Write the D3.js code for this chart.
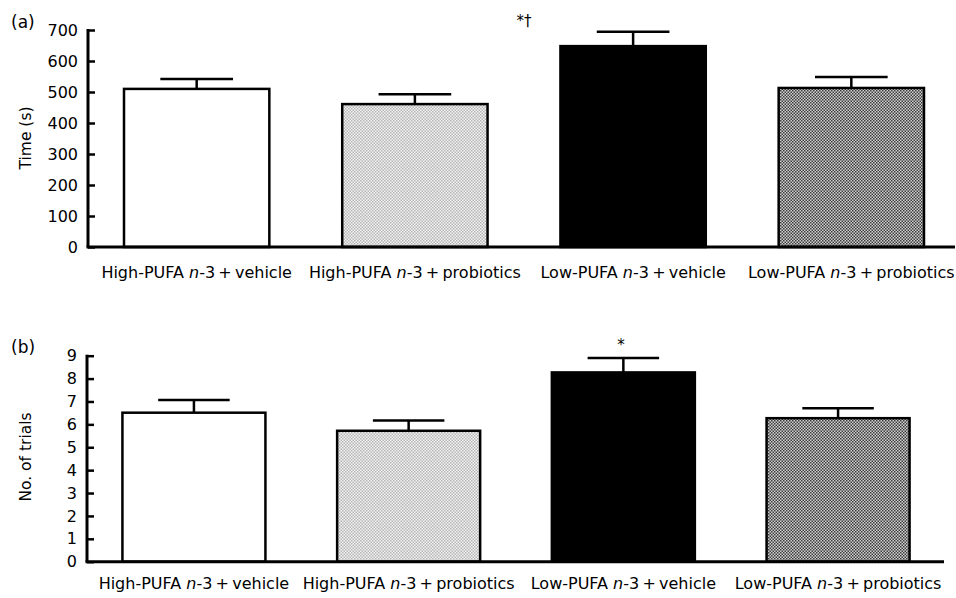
<!DOCTYPE html>
<html>
<head>
<meta charset="utf-8">
<script src="https://cdn.jsdelivr.net/npm/d3@7"></script>
<style>
  body { margin: 0; background: #fff; }
  svg { font-family: "DejaVu Sans", sans-serif; }
</style>
</head>
<body>
<div id="chart"></div>
<script>
// groups on the x axis
let groups = ['hv', 'hp', 'lv', 'lp'];
let groupPrefix = ['High-PUFA ', 'High-PUFA ', 'Low-PUFA ', 'Low-PUFA '];
let groupSuffix = ['-3\u2009+\u2009vehicle', '-3\u2009+\u2009probiotics', '-3\u2009+\u2009vehicle', '-3\u2009+\u2009probiotics'];

// panel (a): time (s)
let timeMean = [510, 461, 648, 513];
let timeErr = [32, 32, 46, 35];
let timeTicks = [0, 100, 200, 300, 400, 500, 600, 700];

// panel (b): number of trials
let trialMean = [6.51, 5.72, 8.27, 6.27];
let trialErr = [0.55, 0.45, 0.63, 0.43];
let trialTicks = [0, 1, 2, 3, 4, 5, 6, 7, 8, 9];

let fills = ['#fff', 'url(#patLight)', '#000', 'url(#patDark)'];

let svg = d3.select('#chart').append('svg')
    .attr('width', 956)
    .attr('height', 598);

let defs = svg.append('defs');
addPattern(defs, 'patLight', '#f4f4f4', '#b4b4b4');
addPattern(defs, 'patDark', '#d0d0d0', '#3c3c3c');

drawPanel({
    label: '(a)', labelY: 28,
    yTitle: 'Time (s)', yTitleY: 138,
    means: timeMean, errs: timeErr, ticks: timeTicks,
    yDomain: [0, 700], yRange: [247, 30],
    xRange: [88, 960], axisEnd: 955,
    catY: 278,
    notes: [{ text: '*\u2020', x: 524, y: 26 }]
});

drawPanel({
    label: '(b)', labelY: 353,
    yTitle: 'No. of trials', yTitleY: 457,
    means: trialMean, errs: trialErr, ticks: trialTicks,
    yDomain: [0, 9], yRange: [561.7, 355.7],
    xRange: [87, 945], axisEnd: 944,
    catY: 589,
    notes: [{ text: '*', x: 621, y: 350 }]
});

function addPattern(defs, id, bg, fg) {
    let p = defs.append('pattern')
        .attr('id', id)
        .attr('patternUnits', 'userSpaceOnUse')
        .attr('width', 3)
        .attr('height', 3);
    p.append('rect').attr('width', 3).attr('height', 3).attr('fill', bg);
    p.append('rect').attr('width', 1.5).attr('height', 1.5).attr('fill', fg);
    p.append('rect').attr('x', 1.5).attr('y', 1.5).attr('width', 1.5).attr('height', 1.5).attr('fill', fg);
}

function drawPanel(cfg) {
    let g = svg.append('g');

    let xScaler = d3.scaleBand()
        .domain(groups)
        .range(cfg.xRange)
        .paddingInner(0.334)
        .paddingOuter(0.165);

    let yScaler = d3.scaleLinear()
        .domain(cfg.yDomain)
        .range(cfg.yRange);

    let data = groups.map((k, i) => ({ key: k, i: i, mean: cfg.means[i], err: cfg.errs[i] }));

    // bars
    g.selectAll('.bar')
        .data(data)
        .enter()
        .append('rect')
        .attr('x', d => xScaler(d.key))
        .attr('y', d => yScaler(d.mean))
        .attr('width', xScaler.bandwidth())
        .attr('height', d => yScaler(0) - yScaler(d.mean))
        .attr('fill', d => fills[d.i])
        .attr('stroke', '#000')
        .attr('stroke-width', 2.5);

    // error bars
    let bw = xScaler.bandwidth();
    let eb = g.selectAll('.err').data(data).enter().append('g');
    eb.append('line')
        .attr('x1', d => xScaler(d.key) + bw / 2)
        .attr('x2', d => xScaler(d.key) + bw / 2)
        .attr('y1', d => yScaler(d.mean))
        .attr('y2', d => yScaler(d.mean + d.err))
        .attr('stroke', '#000').attr('stroke-width', 2.5);
    eb.append('line')
        .attr('x1', d => xScaler(d.key) + bw / 4)
        .attr('x2', d => xScaler(d.key) + bw * 3 / 4)
        .attr('y1', d => yScaler(d.mean + d.err))
        .attr('y2', d => yScaler(d.mean + d.err))
        .attr('stroke', '#000').attr('stroke-width', 2.5);

    // y axis
    let yAxis = d3.axisLeft(yScaler)
        .tickValues(cfg.ticks)
        .tickSize(-7)
        .tickPadding(10);
    let ya = g.append('g')
        .attr('transform', `translate(${cfg.xRange[0]},0)`)
        .call(yAxis);
    ya.select('.domain').remove();
    ya.selectAll('line').attr('stroke', '#000').attr('stroke-width', 2.5);
    ya.selectAll('text')
        .attr('font-size', 16)
        .attr('font-family', '"DejaVu Sans", sans-serif')
        .attr('fill', '#000');
    g.append('line')
        .attr('x1', cfg.xRange[0]).attr('x2', cfg.xRange[0])
        .attr('y1', yScaler.range()[1] - 1).attr('y2', yScaler(0))
        .attr('stroke', '#000').attr('stroke-width', 3);

    // x baseline
    g.append('line')
        .attr('x1', cfg.xRange[0] - 1.5).attr('x2', cfg.axisEnd)
        .attr('y1', yScaler(0)).attr('y2', yScaler(0))
        .attr('stroke', '#000').attr('stroke-width', 3);

    // category labels
    let cat = g.selectAll('.cat').data(data).enter().append('text')
        .attr('x', d => xScaler(d.key) + bw / 2)
        .attr('y', cfg.catY)
        .attr('text-anchor', 'middle')
        .attr('font-size', 16)
        .attr('fill', '#000');
    cat.append('tspan').text(d => groupPrefix[d.i]);
    cat.append('tspan').attr('font-style', 'italic').text('n');
    cat.append('tspan').text(d => groupSuffix[d.i]);

    // axis title
    g.append('text')
        .attr('transform', `translate(31,${cfg.yTitleY}) rotate(-90)`)
        .attr('text-anchor', 'middle')
        .attr('font-size', 15.5)
        .attr('fill', '#000')
        .text(cfg.yTitle);

    // panel label
    g.append('text')
        .attr('x', 11).attr('y', cfg.labelY)
        .attr('font-size', 17)
        .attr('fill', '#000')
        .text(cfg.label);

    // significance marks
    g.selectAll('.note').data(cfg.notes).enter().append('text')
        .attr('x', d => d.x).attr('y', d => d.y)
        .attr('text-anchor', 'middle')
        .attr('font-size', 15)
        .attr('fill', '#000')
        .text(d => d.text);
}
</script>
</body>
</html>
